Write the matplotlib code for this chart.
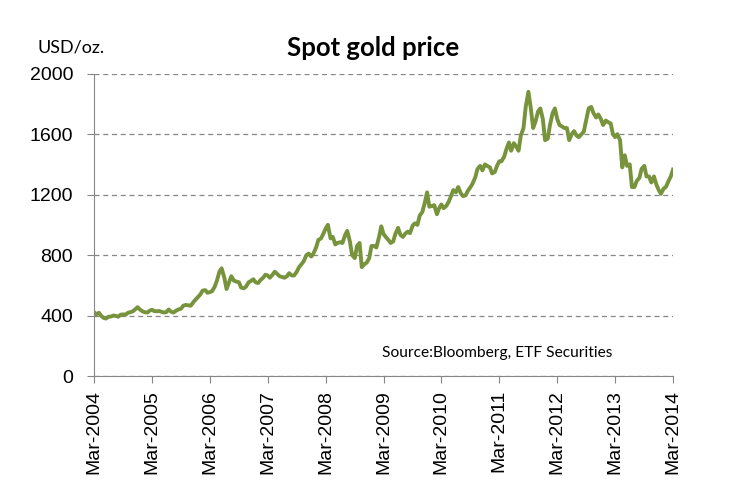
import pandas as pd
import matplotlib
matplotlib.use('Agg')
import matplotlib.pyplot as plt
import matplotlib.dates as mdates

plt.rcParams['font.family'] = ['Liberation Sans', 'DejaVu Sans']

# semi-monthly gold price, USD/oz (1st and 15th of each month), Mar-2004 .. Mar-2014
price = [
    # 2004 Mar-Dec
    422, 408, 418, 398, 384, 380, 392, 393, 400, 398,
    392, 405, 408, 405, 418, 422, 428, 440, 455, 440,
    # 2005
    428, 422, 420, 432, 438, 430, 428, 430, 425, 420, 423, 440,
    425, 420, 432, 440, 445, 465, 470, 468, 465, 485, 505, 520,
    # 2006
    540, 565, 568, 550, 555, 560, 590, 630, 690, 712, 650, 575,
    620, 660, 630, 625, 620, 585, 580, 590, 620, 628, 640, 620,
    # 2007
    615, 635, 650, 670, 665, 650, 670, 690, 675, 660, 655, 650,
    660, 680, 665, 665, 690, 720, 740, 760, 800, 810, 790, 810,
    # 2008
    850, 900, 910, 940, 975, 1000, 910, 920, 870, 880, 885, 880,
    930, 960, 890, 800, 780, 860, 880, 720, 740, 750, 780, 860,
    # 2009
    860, 850, 920, 990, 940, 920, 900, 880, 890, 940, 980, 935,
    920, 940, 955, 945, 995, 1010, 1000, 1060, 1085, 1140, 1215, 1120,
    # 2010
    1125, 1130, 1070, 1110, 1135, 1110, 1125, 1150, 1190, 1230, 1215, 1250,
    1210, 1190, 1195, 1225, 1250, 1275, 1315, 1370, 1390, 1360, 1400, 1390,
    # 2011
    1380, 1340, 1350, 1390, 1420, 1420, 1450, 1500, 1545, 1490, 1540, 1520,
    1490, 1590, 1640, 1780, 1880, 1780, 1640, 1680, 1750, 1770, 1700, 1560,
    # 2012
    1570, 1660, 1740, 1770, 1700, 1660, 1650, 1640, 1640, 1560, 1600, 1620,
    1590, 1580, 1600, 1615, 1700, 1770, 1780, 1740, 1710, 1730, 1700, 1660,
    # 2013
    1690, 1680, 1670, 1600, 1580, 1600, 1560, 1380, 1460, 1390, 1400, 1250,
    1250, 1290, 1310, 1370, 1390, 1320, 1320, 1280, 1320, 1270, 1230, 1205,
    # 2014 Jan-Mar
    1240, 1250, 1290, 1320, 1365,
]
dates = pd.date_range('2004-03-01', periods=len(price), freq='SMS')
tick_dates = pd.date_range('2004-03-01', '2014-03-01', freq='12MS')
y_ticks = [0, 400, 800, 1200, 1600, 2000]

fig = plt.figure(figsize=(7.42, 5.01), dpi=100)
ax = fig.add_axes([0.1267, 0.2495, 0.907 - 0.1267, 0.853 - 0.2495])

ax.plot(dates, price, color='#77933C', linewidth=2.8, solid_joinstyle='round')

ax.set_xlim(tick_dates[0], tick_dates[-1])
ax.set_ylim(0, 2000)
ax.set_yticks(y_ticks)
ax.set_xticks(tick_dates)
ax.xaxis.set_major_formatter(mdates.DateFormatter('%b-%Y'))
ax.tick_params(axis='x', rotation=90, labelsize=14, length=5, pad=5, color='#868686')
ax.tick_params(axis='y', labelsize=14, length=5, pad=10, color='#868686')
ax.yaxis.grid(True, linestyle=(0, (4, 3)), color='#868686', linewidth=0.9)
ax.set_axisbelow(True)
for s in ['top', 'right']:
    ax.spines[s].set_visible(False)
for s in ['left', 'bottom']:
    ax.spines[s].set_color('#868686')

fig.text(0.503, 0.905, 'Spot gold price', ha='center', va='center',
         fontsize=18.5, fontweight='bold', family='Lato')
fig.text(0.05, 0.905, 'USD/oz.', ha='left', va='center', fontsize=13, family='Lato')
ax.text(0.498, 0.075, 'Source:Bloomberg, ETF Securities', transform=ax.transAxes,
        ha='left', va='center', fontsize=11.2, family='Lato')

fig.savefig('out.png', dpi=100)
